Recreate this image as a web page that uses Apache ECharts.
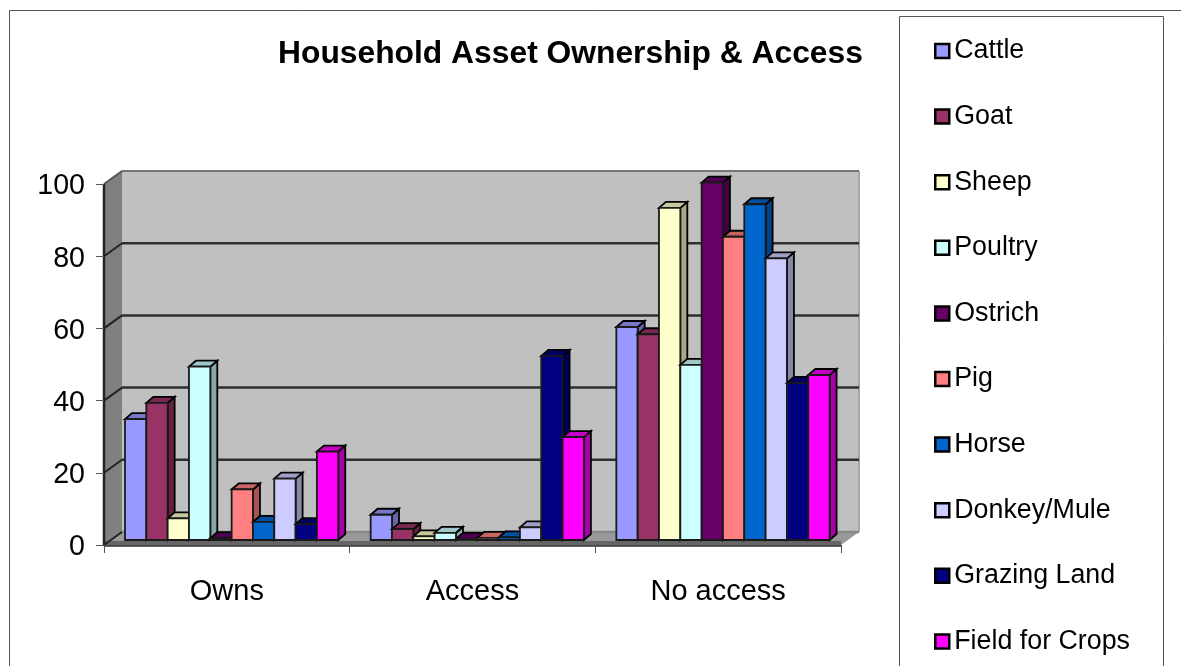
<!DOCTYPE html>
<html>
<head>
<meta charset="utf-8">
<style>html,body{margin:0;padding:0;background:#fff}#c{width:1181px;height:666px}</style>
<script src="https://cdn.jsdelivr.net/npm/echarts@6/dist/echarts.min.js"></script>
</head>
<body>
<div id="c"></div>
<script>
// Household survey: share of households per asset and access level
const categories = ['Owns', 'Access', 'No access'];
const valueTicks = [0, 20, 40, 60, 80, 100];
const seriesNames = ['Cattle', 'Goat', 'Sheep', 'Poultry', 'Ostrich', 'Pig', 'Horse', 'Donkey/Mule', 'Grazing Land', 'Field for Crops'];
const seriesColors = ['#9999FF', '#993366', '#FFFFCC', '#CCFFFF', '#660066', '#FF8080', '#0066CC', '#CCCCFF', '#000080', '#FF00FF'];
const cattle = [33.5, 7, 59];
const goat = [38, 3, 57];
const sheep = [6, 1, 92];
const poultry = [48, 2, 48.5];
const ostrich = [0.5, 0.3, 99];
const pig = [14, 0.6, 84];
const horse = [5, 0.7, 93];
const donkey = [17, 3.5, 78];
const grazing = [4.4, 51, 43.5];
const crops = [24.5, 28.5, 45.7];
const seriesValues = [cattle, goat, sheep, poultry, ostrich, pig, horse, donkey, grazing, crops];

const FONT = '"Liberation Sans", Arial, sans-serif';
const WALL_DX = 18, WALL_DY = 13;   // depth of the plot box
const BAR_DX = 7, BAR_DY = 6;       // depth of each column
const FLOOR_LIFT = 5;               // columns stand slightly inside the floor

function poly(points, fill, stroke, lineWidth) {
  return {
    type: 'polygon',
    shape: { points },
    style: { fill, stroke: stroke || null, lineWidth: lineWidth || 0, lineJoin: 'miter' }
  };
}
function seg(x1, y1, x2, y2, stroke, lineWidth) {
  return { type: 'line', shape: { x1, y1, x2, y2 }, style: { stroke, lineWidth } };
}
// Scale a #RRGGBB colour towards black for the shaded column faces
function shade(hex, factor) {
  const n = parseInt(hex.slice(1), 16);
  const ch = function (s) { return Math.round(((n >> s) & 255) * factor); };
  return 'rgb(' + ch(16) + ',' + ch(8) + ',' + ch(0) + ')';
}

// Back wall, side wall, floor slab and the gridlines that run across them
function renderBox(params, api) {
  const g = params.coordSys;
  const L = g.x, R = g.x + g.width, T = g.y, B = g.y + g.height;
  const dx = WALL_DX, dy = WALL_DY;
  const kids = [
    poly([[L + dx, T - dy], [R + dx, T - dy], [R + dx, B - dy], [L + dx, B - dy]], '#C0C0C0'),
    poly([[L, T], [L + dx, T - dy], [L + dx, B - dy], [L, B]], '#808080'),
    poly([[L, B], [L + dx, B - dy], [R + dx, B - dy], [R, B]], '#999999'),
    poly([[L, B - 4], [R, B - 4], [R, B + 2], [L, B + 2]], '#666666'),
    seg(R + dx, T - dy, R + dx, B - dy, '#A6A6A6', 2)
  ];
  valueTicks.forEach(function (t) {
    const y = api.coord([0, t])[1];
    const color = t === 100 ? '#777777' : (t === 0 ? '#888888' : '#2E2E2E');
    kids.push(seg(L + dx, y - dy, R + dx, y - dy, color, t === 100 ? 2 : 2.5));
    kids.push(seg(L, y, L + dx, y - dy, t === 100 ? '#555555' : '#222222', 2));
  });
  kids.push(seg(L, T, L, B, '#222222', 2.5));
  return { type: 'group', children: kids };
}

// One extruded column: top and side faces first, front face last
function renderBar(seriesPos, color) {
  return function (params, api) {
    const pt = api.coord([api.value(0), api.value(1)]);
    const band = api.size([1, 0])[0];
    const w = band * 0.0868;
    const x0 = pt[0] - band / 2 + band * 0.0855 + seriesPos * w;
    const x1 = x0 + w;
    const yTop = pt[1] - FLOOR_LIFT;
    const yBase = api.coord([api.value(0), 0])[1] - FLOOR_LIFT;
    return {
      type: 'group',
      children: [
        poly([[x1, yTop], [x1 + BAR_DX, yTop - BAR_DY], [x1 + BAR_DX, yBase - BAR_DY], [x1, yBase]], shade(color, 0.66), '#000', 1.8),
        poly([[x0, yTop], [x0 + BAR_DX, yTop - BAR_DY], [x1 + BAR_DX, yTop - BAR_DY], [x1, yTop]], shade(color, 0.78), '#000', 1.8),
        poly([[x0, yTop], [x1, yTop], [x1, yBase], [x0, yBase]], color, '#1A1A1A', 1.8)
      ]
    };
  };
}

const boxSeries = {
  type: 'custom',
  name: 'box',
  silent: true,
  z: 1,
  renderItem: renderBox,
  data: [[0, 0]],
  encode: { x: 0, y: 1 }
};

const barSeries = seriesNames.map(function (name, i) {
  return {
    type: 'custom',
    name,
    z: 2,
    itemStyle: { color: seriesColors[i] },
    renderItem: renderBar(i, seriesColors[i]),
    data: seriesValues[i].map(function (v, k) { return [k, v]; }),
    encode: { x: 0, y: 1 }
  };
});

const chart = echarts.init(document.getElementById('c'), null, { renderer: 'canvas' });
chart.setOption({
  animation: false,
  backgroundColor: '#fff',
  title: {
    text: 'Household Asset Ownership & Access',
    left: 278,
    top: 38,
    padding: 0,
    textStyle: { fontFamily: FONT, fontSize: 31.8, fontWeight: 'bold', color: '#000' }
  },
  grid: { left: 104, top: 184, width: 737, height: 361, containLabel: false },
  xAxis: {
    type: 'category',
    data: categories,
    z: 5,
    boundaryGap: true,
    axisLine: { lineStyle: { color: '#444', width: 1 } },
    axisTick: { show: true, length: 8, lineStyle: { color: '#555', width: 1 } },
    axisLabel: { fontFamily: FONT, fontSize: 29, color: '#000', margin: 32 },
    splitLine: { show: false }
  },
  yAxis: {
    type: 'value',
    min: 0,
    max: 100,
    interval: 20,
    z: 5,
    axisLine: { show: false },
    axisTick: { show: true, length: 8, lineStyle: { color: '#555', width: 1 } },
    axisLabel: { fontFamily: FONT, fontSize: 28.6, color: '#000', margin: 19, lineHeight: 5, verticalAlign: 'top' },
    splitLine: { show: false }
  },
  legend: {
    orient: 'vertical',
    left: 934,
    top: 36,
    padding: 0,
    icon: 'rect',
    itemWidth: 14,
    itemHeight: 14,
    itemGap: 35.6,
    selectedMode: false,
    data: seriesNames,
    itemStyle: { borderColor: '#000', borderWidth: 2.5 },
    textStyle: { fontFamily: FONT, fontSize: 26.8, lineHeight: 30, color: '#000' }
  },
  graphic: [
    { type: 'polyline', z: 0, shape: { points: [[9.5, 680], [9.5, 10.5], [1181, 10.5]] }, style: { stroke: '#555', lineWidth: 1, fill: null } },
    { type: 'rect', z: 0, shape: { x: 899.5, y: 16.5, width: 264, height: 670 }, style: { stroke: '#555', lineWidth: 1, fill: '#fff' } }
  ],
  series: [boxSeries].concat(barSeries)
});
</script>
</body>
</html>
